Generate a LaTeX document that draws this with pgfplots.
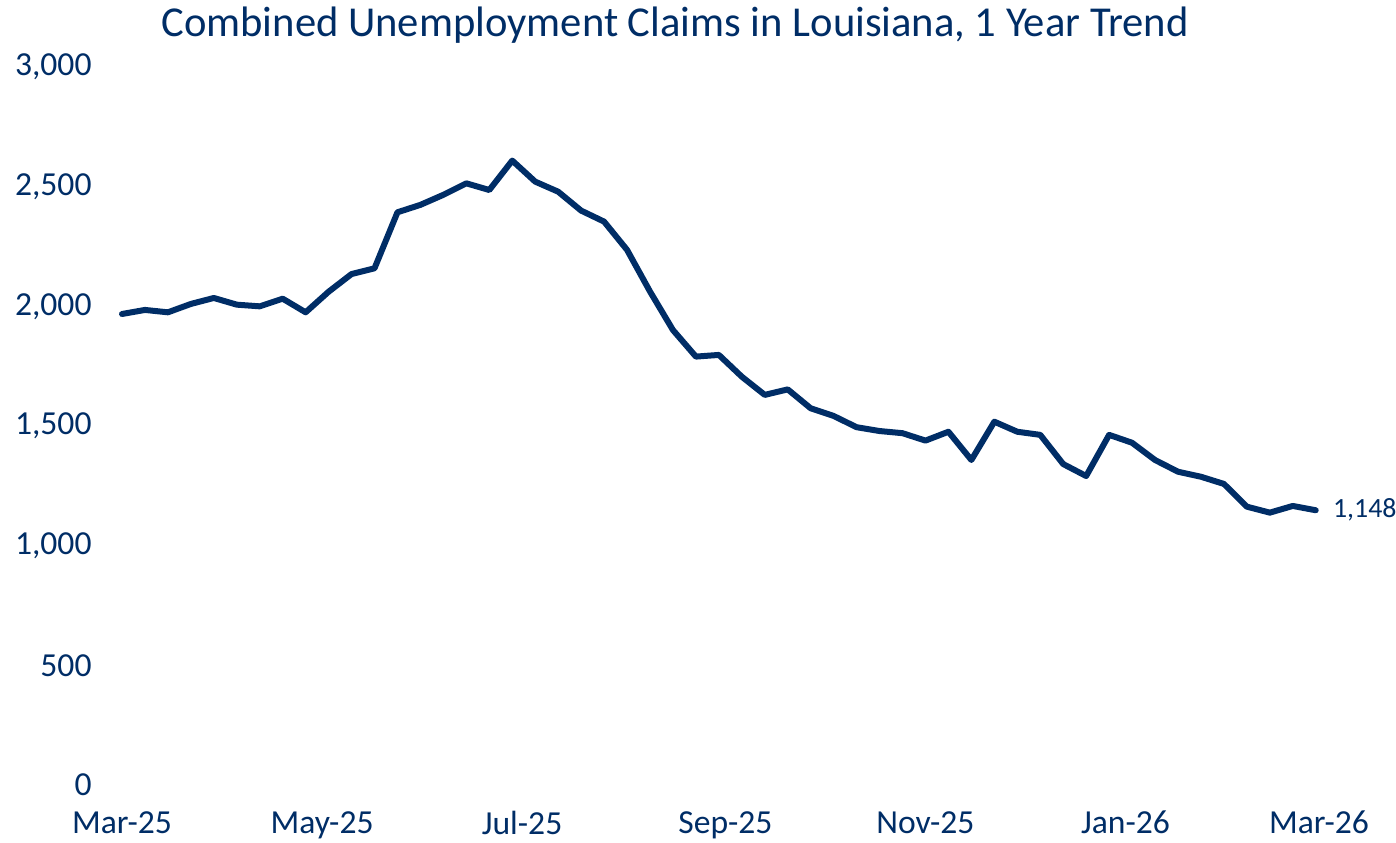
\documentclass[border=0pt]{standalone}
\usepackage{fontspec}
\setmainfont{Carlito}
\usepackage{pgfplots}
\pgfplotsset{compat=1.18}
\definecolor{navy}{RGB}{0,45,102}
\begin{document}
\begin{tikzpicture}
\path[use as bounding box] (-61pt,-28.5pt) rectangle (637pt,392.5pt);
\begin{axis}[
  scale only axis,
  width=598.5pt, height=359pt,
  xmin=0, xmax=365, ymin=0, ymax=3000,
  enlargelimits=false,
  axis line style={draw=none},
  tick style={draw=none},
  xtick={0,61,122,184,245,306,365},
  xticklabels={Mar-25,May-25,Jul-25,Sep-25,Nov-25,Jan-26,Mar-26},
  ytick={0,500,1000,1500,2000,2500,3000},
  /pgf/number format/assume math mode=true,
  /pgf/number format/1000 sep={,},
  ticklabel style={font=\fontsize{16.8}{19}\selectfont, text=navy},
  xticklabel style={yshift=-9.6pt},
  yticklabel style={xshift=-11.7pt},
  clip=false,
]
\addplot[navy, line width=3pt, line join=round, line cap=round] coordinates {
(0,1968) (7,1985) (14,1975) (21,2010) (28,2035) (35,2007) (42,2000) (49,2032) (56,1975) (63,2061)
(70,2135) (77,2159) (84,2393) (91,2424) (98,2466) (105,2514) (112,2486) (119,2609) (126,2521) (133,2479)
(140,2400) (147,2354) (154,2236) (161,2062) (168,1901) (175,1790) (182,1797) (189,1706) (196,1630) (203,1653)
(210,1574) (217,1542) (224,1495) (231,1479) (238,1470) (245,1439) (252,1476) (259,1358) (266,1518) (273,1476)
(280,1463) (287,1341) (294,1291) (301,1463) (308,1430) (315,1358) (322,1309) (329,1288) (336,1258) (343,1163)
(350,1138) (357,1166) (364,1148)
};
\node[anchor=west, inner sep=0pt, xshift=8.5pt, text=navy, font=\fontsize{13.9}{16}\selectfont] at (axis cs:364,1148) {1,148};
\end{axis}
\node[anchor=base, text=navy, font=\fontsize{21.3}{25}\selectfont] at (276.5pt,374pt) {Combined Unemployment Claims in Louisiana, 1 Year Trend};
\end{tikzpicture}
\end{document}
